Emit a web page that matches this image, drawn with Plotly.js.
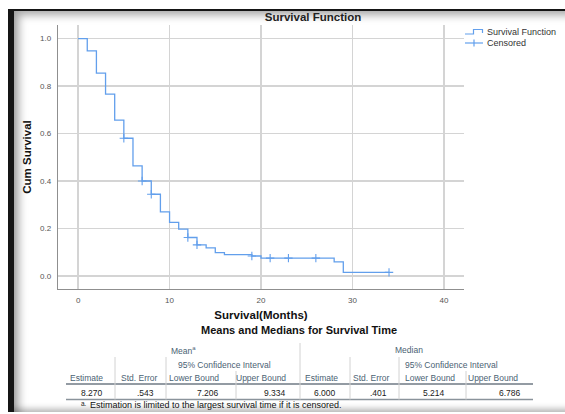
<!DOCTYPE html>
<html>
<head>
<meta charset="utf-8">
<script src="https://cdn.plot.ly/plotly-3.0.1.min.js"></script>
<style>
  html, body { margin: 0; padding: 0; background: #ffffff; width: 565px; height: 414px; overflow: hidden; }
  #frame { position: absolute; left: 8px; top: 9px; width: 580px; height: 401px;
           border-left: 6px solid #151515; border-top: 2px solid #151515;
           box-shadow: inset 8px 7px 8px -3px rgba(0,0,0,0.35), inset 0 -6px 6px -3px rgba(0,0,0,0.30); }
  #chart { position: absolute; left: 0; top: 0; width: 565px; height: 414px; }
</style>
</head>
<body>
<div id="frame"></div>
<div id="chart"></div>
<script>
// ---------- data ----------
const chartTitle = 'Survival Function';
const xTitle = 'Survival(Months)';
const yTitle = 'Cum Survival';
const legendNames = ['Survival Function', 'Censored'];

// Kaplan-Meier step function (time in months, cumulative survival)
const stepTimes = [0, 1, 2, 3, 4, 5, 6, 7, 8, 9, 10, 11, 12, 13, 14, 15, 16, 19, 20, 28, 29, 34];
const stepSurv  = [1.000, 0.948, 0.854, 0.766, 0.656, 0.580, 0.464, 0.400, 0.344, 0.270, 0.226, 0.197,
                   0.162, 0.131, 0.118, 0.098, 0.090, 0.084, 0.075, 0.059, 0.015, 0.015];
// censored observation times
const censorTimes = [5, 7, 8, 12, 13, 19, 21, 23, 26, 34];

const xTicks = [0, 10, 20, 30, 40];
const yTicks = [0.0, 0.2, 0.4, 0.6, 0.8, 1.0];

// table
const tableTitle = 'Means and Medians for Survival Time';
const groupHeaders = ['Mean<sup>a</sup>', 'Median'];
const ciHeader = '95% Confidence Interval';
const columnHeaders = ['Estimate', 'Std. Error', 'Lower Bound', 'Upper Bound',
                       'Estimate', 'Std. Error', 'Lower Bound', 'Upper Bound'];
const rowValues = ['8.270', '.543', '7.206', '9.334', '6.000', '.401', '5.214', '6.786'];
const footnoteMark = 'a.';
const footnote = 'Estimation is limited to the largest survival time if it is censored.';

// ---------- layout geometry (pixels) ----------
const L = 58, R = 464, T = 25, B = 289;
const W = R - L, H = B - T;
const px2x = p => (p - L) / W;
const py2y = p => (B - p) / H;

const FONT = 'Liberation Sans, Arial, sans-serif';
const BLUE = '#629fec';

// censored y-values
function survAt(t) {
  let s = stepSurv[0];
  for (let i = 0; i < stepTimes.length; i++) if (stepTimes[i] <= t) s = stepSurv[i];
  return s;
}
const censorSurv = censorTimes.map(survAt);

const traces = [
  { x: stepTimes, y: stepSurv, type: 'scatter', mode: 'lines', name: legendNames[0],
    line: { shape: 'hv', color: BLUE, width: 1.3 }, hoverinfo: 'x+y' },
  { x: censorTimes, y: censorSurv, type: 'scatter', mode: 'markers', name: legendNames[1],
    marker: { symbol: 'cross-thin', size: 6, line: { color: BLUE, width: 1.1 }, color: BLUE } }
];

const shapes = [];
const annotations = [];

// ---- manual legend ----
shapes.push({ type: 'path', xref: 'paper', yref: 'paper', layer: 'above',
  path: `M ${px2x(465)} ${py2y(34)} L ${px2x(473.5)} ${py2y(34)} L ${px2x(473.5)} ${py2y(29.5)} L ${px2x(482.5)} ${py2y(29.5)} L ${px2x(482.5)} ${py2y(33)}`,
  line: { color: BLUE, width: 1.2 } });
shapes.push({ type: 'line', xref: 'paper', yref: 'paper', x0: px2x(465), x1: px2x(483), y0: py2y(43), y1: py2y(43),
  line: { color: BLUE, width: 1.2 } });
shapes.push({ type: 'line', xref: 'paper', yref: 'paper', x0: px2x(474), x1: px2x(474), y0: py2y(39.5), y1: py2y(46.5),
  line: { color: BLUE, width: 1.2 } });
legendNames.forEach((n, i) => {
  annotations.push({ xref: 'paper', yref: 'paper', x: px2x(485), y: py2y(32 + i * 10.8), text: n,
    showarrow: false, xanchor: 'left', yanchor: 'middle', font: { family: FONT, size: 9, color: '#333' } });
});

// ---- table ----
annotations.push({ xref: 'paper', yref: 'paper', x: px2x(299), y: py2y(330), text: tableTitle,
  showarrow: false, xanchor: 'center', yanchor: 'middle', font: { family: FONT, size: 11, color: '#111', weight: 'bold' } });

const HDR = '#4a6273';
const groupCenterPx = [183, 409];
const ciCenterPx = [224, 451];
const colCenterPx = [86, 139, 194, 261, 321, 371, 430, 493];
const valRightPx = [104.5, 155.7, 220.5, 288, 338, 388.5, 446.8, 523];
const rowY = { group: 350, ci: 364.5, cols: 378.5, vals: 392.5, foot: 405 };

groupHeaders.forEach((g, i) => annotations.push({ xref: 'paper', yref: 'paper', x: px2x(groupCenterPx[i]), y: py2y(rowY.group),
  text: g, showarrow: false, xanchor: 'center', yanchor: 'middle', font: { family: FONT, size: 8.5, color: HDR } }));
ciCenterPx.forEach(c => annotations.push({ xref: 'paper', yref: 'paper', x: px2x(c), y: py2y(rowY.ci),
  text: ciHeader, showarrow: false, xanchor: 'center', yanchor: 'middle', font: { family: FONT, size: 8.5, color: HDR } }));
columnHeaders.forEach((h, i) => annotations.push({ xref: 'paper', yref: 'paper', x: px2x(colCenterPx[i]), y: py2y(rowY.cols),
  text: h, showarrow: false, xanchor: 'center', yanchor: 'middle', font: { family: FONT, size: 8.5, color: HDR } }));
rowValues.forEach((v, i) => annotations.push({ xref: 'paper', yref: 'paper', x: px2x(valRightPx[i]), y: py2y(rowY.vals),
  text: v, showarrow: false, xanchor: 'right', yanchor: 'middle', font: { family: FONT, size: 8.5, color: '#1a1a1a' } }));
annotations.push({ xref: 'paper', yref: 'paper', x: px2x(79), y: py2y(rowY.foot - 1.5), text: footnoteMark,
  showarrow: false, xanchor: 'left', yanchor: 'middle', font: { family: FONT, size: 6.5, color: '#222' } });
annotations.push({ xref: 'paper', yref: 'paper', x: px2x(88), y: py2y(rowY.foot), text: footnote,
  showarrow: false, xanchor: 'left', yanchor: 'middle', font: { family: FONT, size: 9, color: '#111' } });

// table rules
const tblL = 66, tblR = 533;
[[384, '#6f7a84'], [399.5, '#8a939b']].forEach(([y, c]) => shapes.push({ type: 'line', xref: 'paper', yref: 'paper',
  x0: px2x(tblL), x1: px2x(tblR), y0: py2y(y), y1: py2y(y), line: { color: c, width: 1.4 } }));
const sepLines = [[300, 343], [115, 357], [166, 357], [350, 357], [399, 357], [236, 371], [466, 371]];
sepLines.forEach(([x, y0]) => shapes.push({ type: 'line', xref: 'paper', yref: 'paper',
  x0: px2x(x), x1: px2x(x), y0: py2y(y0), y1: py2y(399.5), line: { color: '#d2d2d2', width: 1 } }));

const axisCommon = {
  showline: true, linecolor: '#8f8f8f', linewidth: 1.3, mirror: false, zeroline: false,
  showgrid: true, gridcolor: '#d4d4d4', gridwidth: 1.3, ticks: '',
  tickfont: { family: FONT, size: 8, color: '#555' }
};

const layout = {
  width: 565, height: 414,
  margin: { l: L, r: 565 - R, t: T, b: 414 - B, pad: 0 },
  paper_bgcolor: 'rgba(0,0,0,0)', plot_bgcolor: '#ffffff',
  showlegend: false,
  title: { text: chartTitle, x: 313 / 565, xref: 'container', xanchor: 'center', y: 1 - 17 / 414, yref: 'container', yanchor: 'middle',
           font: { family: FONT, size: 11.5, color: '#222', weight: 'bold' } },
  xaxis: Object.assign({}, axisCommon, { range: [-2.2, 42.2], tickvals: xTicks, ticklabelstandoff: 3,
    title: { text: xTitle, standoff: 7, font: { family: FONT, size: 11.5, color: '#111', weight: 'bold' } } }),
  yaxis: Object.assign({}, axisCommon, { range: [-0.055, 1.057], tickvals: yTicks, tickformat: '.1f', ticklabelstandoff: 4,
    title: { text: yTitle, standoff: 6, font: { family: FONT, size: 11.5, color: '#111', weight: 'bold' } } }),
  shapes: shapes,
  annotations: annotations
};

Plotly.newPlot('chart', traces, layout, { displayModeBar: false, staticPlot: true });
</script>
</body>
</html>
